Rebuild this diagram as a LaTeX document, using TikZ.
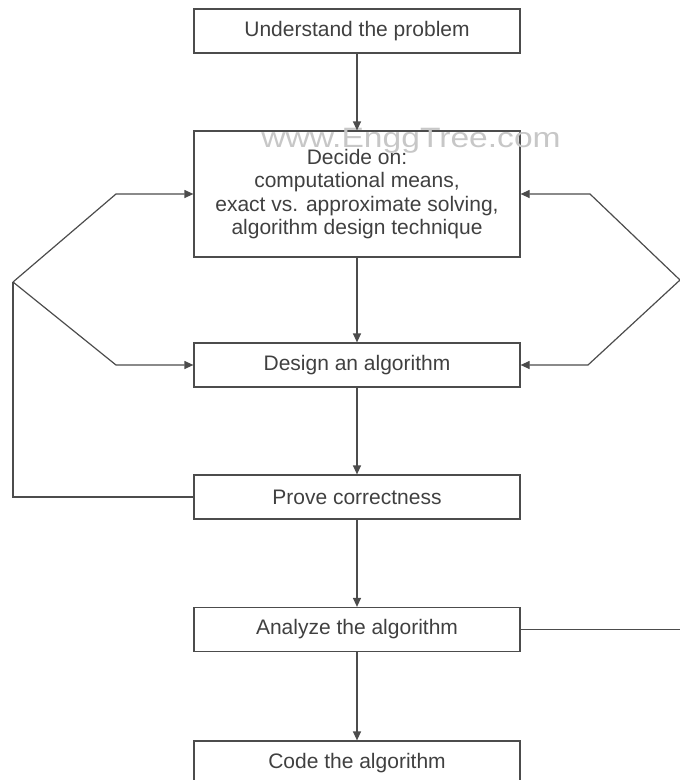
\documentclass[tikz,border=0pt]{standalone}
\usepackage{fontspec}
\setmainfont{Liberation Sans}
\usetikzlibrary{arrows.meta}

\tikzset{
  stepbox/.style={draw=black!70, line width=1.2pt, rectangle, minimum width=326pt, minimum height=44pt,
    inner sep=0pt, align=center, text=black!75, font=\fontsize{21}{23.3}\selectfont},
  arr/.style={draw=black!70, line width=1.2pt, -{Triangle[length=9pt,width=8pt]}},
  fb/.style={draw=black!70, line width=1.2pt}
}

\begin{document}
\begin{tikzpicture}[x=1pt,y=-1pt]
  \useasboundingbox (0,0) rectangle (680,780);

  %Boxes
  \node[stepbox] (und) at (357,31) {Understand the problem};
  \node[stepbox, minimum height=126pt] (dec) at (357,194) {Decide on:\\computational means,\\exact vs. approximate solving,\\algorithm design technique};
  \node[stepbox] (des) at (357,365) {Design an algorithm};
  \node[stepbox] (prv) at (357,497) {Prove correctness};
  \node[stepbox] (ana) at (357,629.5) {Analyze the algorithm};
  \node[stepbox] (cod) at (357,763) {Code the algorithm};

  %Watermark
  \node[text=black!22, font=\fontsize{28}{30}\selectfont, inner sep=0pt, anchor=base] (wm) at (411,147) {\scalebox{1.2}[1]{www.EnggTree.com}};

  %Main flow
  \draw[arr] (und) -- (dec);
  \draw[arr] (dec) -- (des);
  \draw[arr] (des) -- (prv);
  \draw[arr] (prv) -- (ana);
  \draw[arr] (ana) -- (cod);

  %Left feedback
  \coordinate (lj) at (13,282);
  \coordinate (lu) at (116,194);
  \coordinate (ld) at (116,365);
  \draw[fb] (prv.west) -- (prv.west -| lj) -- (lj);
  \draw[arr] (lj) -- (lu) -- (dec.west);
  \draw[arr] (lj) -- (ld) -- (des.west);

  %Right feedback
  \coordinate (rj) at (680,280);
  \coordinate (ru) at (590,194);
  \coordinate (rd) at (588,365);
  \draw[fb] (ana.east) -- (ana.east -| rj);
  \draw[arr] (rj) -- (ru) -- (dec.east);
  \draw[arr] (rj) -- (rd) -- (des.east);
\end{tikzpicture}
\end{document}
